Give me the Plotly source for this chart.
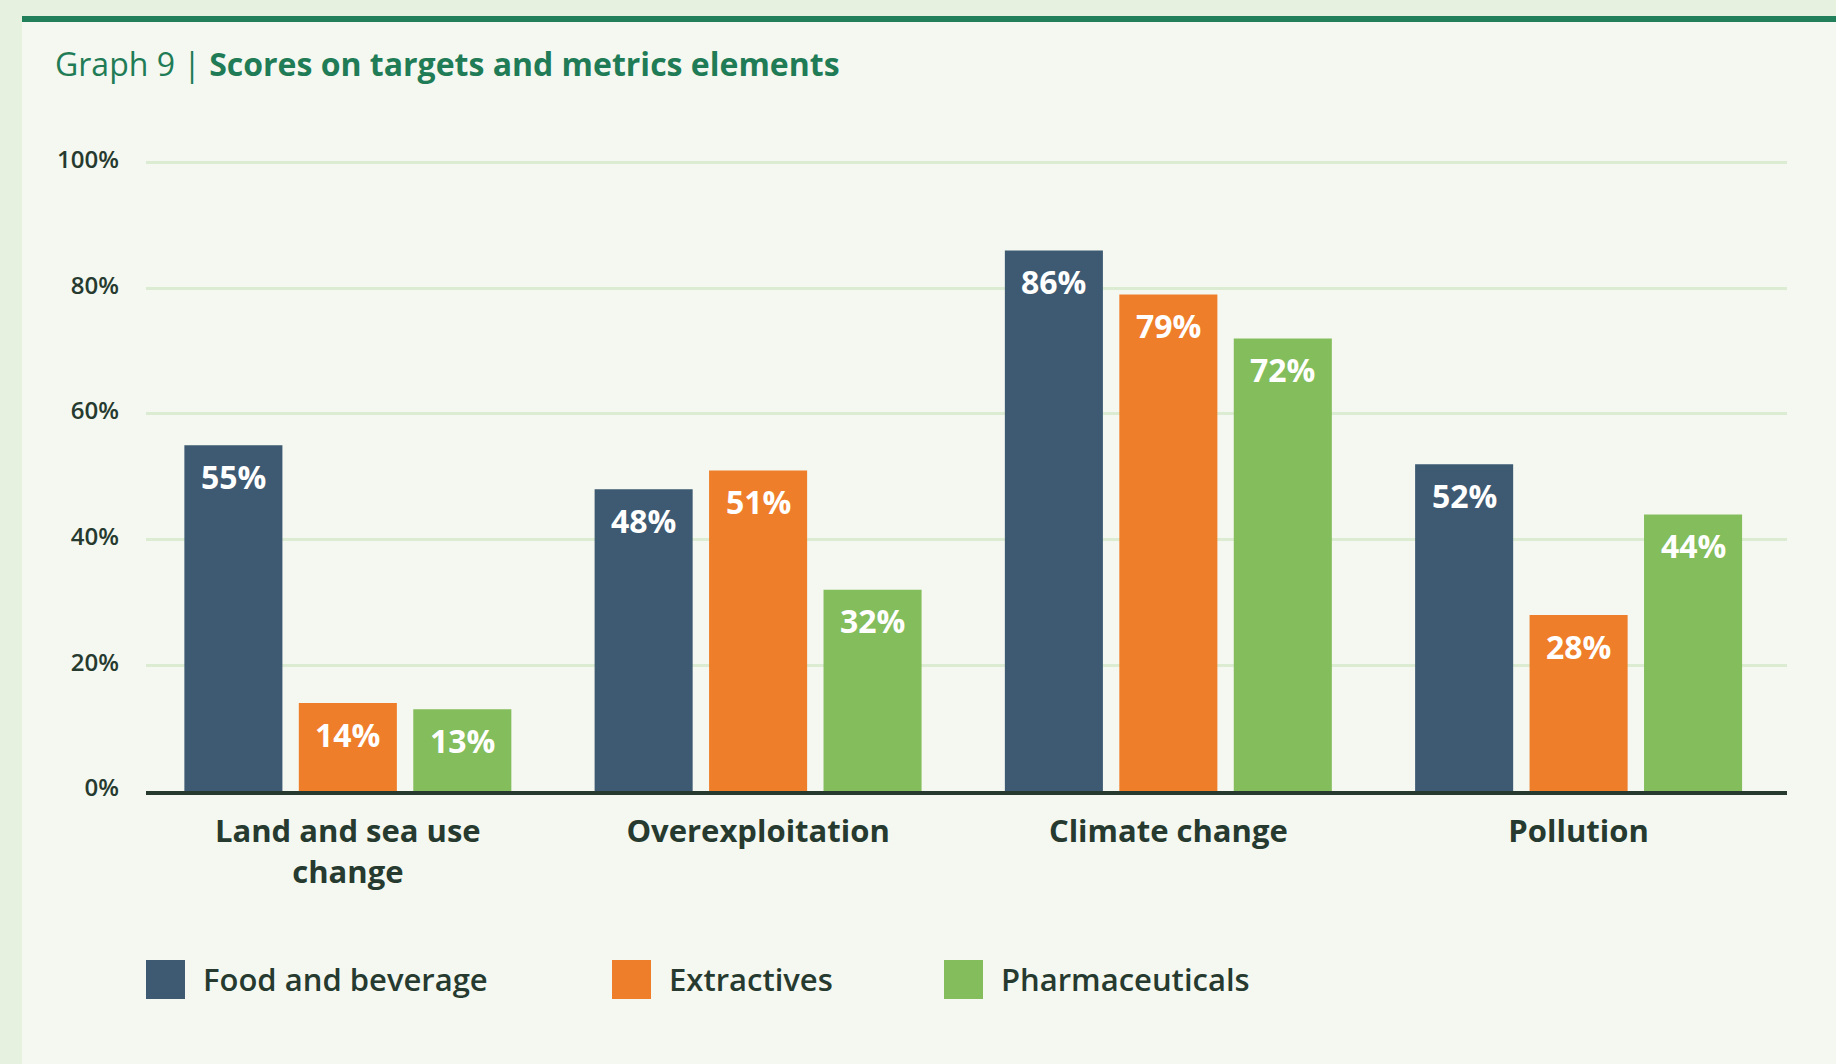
import plotly.graph_objects as go

# ---- data ----
categories = ["Land and sea use<br>change", "Overexploitation", "Climate change", "Pollution"]
series_names = ["Food and beverage", "Extractives", "Pharmaceuticals"]
food_beverage = [55, 48, 86, 52]
extractives = [14, 51, 79, 28]
pharmaceuticals = [13, 32, 72, 44]
y_ticks = [0, 20, 40, 60, 80, 100]
y_tick_labels = ["0%", "20%", "40%", "60%", "80%", "100%"]
title_prefix = "Graph 9 | "
title_main = "Scores on targets and metrics elements"

series_values = [food_beverage, extractives, pharmaceuticals]
colors = ["#3d5a72", "#ef7e2a", "#84bd5b"]

W, H = 1836, 1064
L, R, T, B = 146, 1787, 153, 791  # plot area in pixels

def px(x):
    return (x - L) / (R - L)

def py(y):
    return (B - y) / (B - T)

BAR_W = 0.239
PITCH = 0.279
FONT = "Open Sans"
DARK = "#263a2f"

fig = go.Figure()
xs = list(range(len(categories)))
for k, (name, vals, col) in enumerate(zip(series_names, series_values, colors)):
    off = (k - 1) * PITCH
    fig.add_trace(go.Bar(
        x=xs, y=vals, name=name,
        marker=dict(color=col, line=dict(width=0)),
        width=BAR_W, offset=off - BAR_W / 2,
        showlegend=False, hoverinfo="skip",
    ))

annotations = []
for k, vals in enumerate(series_values):
    off = (k - 1) * PITCH
    for i, v in enumerate(vals):
        annotations.append(dict(
            x=i + off, y=v, xref="x", yref="y",
            text=f"<b>{v}%</b>", showarrow=False,
            yanchor="middle", xanchor="center", yshift=-31,
            font=dict(family=FONT, size=32, color="#ffffff"),
        ))

# title
annotations.append(dict(
    x=px(53), y=py(63), xref="paper", yref="paper",
    xanchor="left", yanchor="middle", showarrow=False,
    text=f"{title_prefix}<b>{title_main}</b>",
    font=dict(family=FONT, size=32, color="#1f7c56"),
))

shapes = [
    # outer light-green frame
    dict(type="rect", xref="paper", yref="paper", layer="below",
         x0=px(0), x1=px(22), y0=py(H), y1=py(0),
         fillcolor="#e7f1df", line=dict(width=0)),
    dict(type="rect", xref="paper", yref="paper", layer="below",
         x0=px(0), x1=px(W), y0=py(16), y1=py(0),
         fillcolor="#e7f1df", line=dict(width=0)),
    # dark green band
    dict(type="rect", xref="paper", yref="paper", layer="below",
         x0=px(22), x1=px(W), y0=py(22), y1=py(16),
         fillcolor="#21805a", line=dict(width=0)),
]

# manual legend
legend_x = [146, 612, 944]
for k, (name, col) in enumerate(zip(series_names, colors)):
    x0 = legend_x[k]
    shapes.append(dict(type="rect", xref="paper", yref="paper",
                       x0=px(x0), x1=px(x0 + 39), y0=py(999), y1=py(960),
                       fillcolor=col, line=dict(width=0)))
    annotations.append(dict(
        x=px(x0 + 55), y=py(979), xref="paper", yref="paper",
        xanchor="left", yanchor="middle", showarrow=False, text=name,
        font=dict(family=FONT, size=31, color=DARK, weight=600),
    ))

fig.update_layout(
    width=W, height=H, autosize=False,
    margin=dict(l=L, r=W - R, t=T, b=H - B, pad=0),
    paper_bgcolor="#f4f8f0", plot_bgcolor="rgba(0,0,0,0)",
    barmode="overlay",
    font=dict(family=FONT, color=DARK),
    annotations=annotations, shapes=shapes,
    showlegend=False,
)
fig.update_xaxes(
    range=[-0.492, 3.508], tickvals=xs, ticktext=[f"<b>{c}</b>" for c in categories],
    showgrid=False, zeroline=False, showline=True, linecolor=DARK, linewidth=4,
    ticks="", ticklabelstandoff=10,
    tickfont=dict(family=FONT, size=31, color=DARK),
    fixedrange=True,
)
fig.update_yaxes(
    range=[0, 101.5], tickvals=y_ticks, ticktext=y_tick_labels,
    showgrid=True, gridcolor="#dcecd3", gridwidth=3,
    zeroline=False, showline=False, ticks="", ticklabelstandoff=26,
    ticklabelshift=-3,
    tickfont=dict(family=FONT, size=24, color=DARK, weight=600),
    fixedrange=True,
)

fig.write_html("out.html")
